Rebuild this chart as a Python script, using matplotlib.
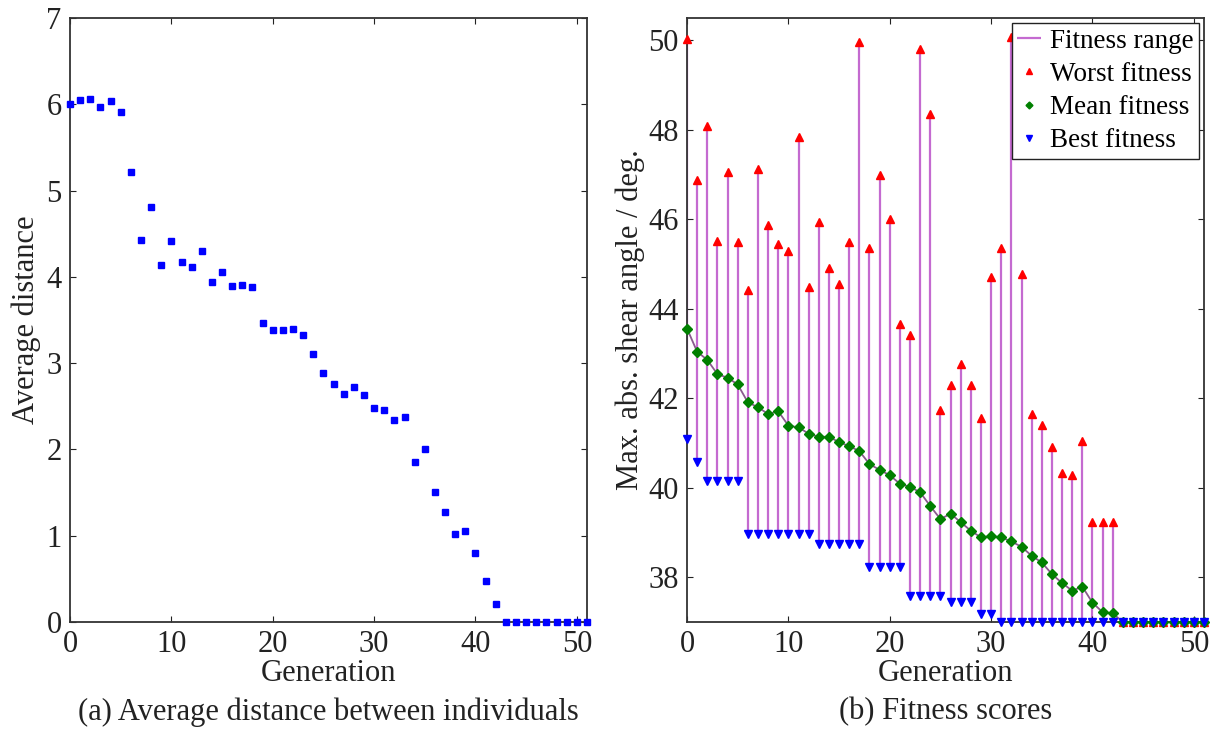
import numpy as np
from matplotlib import pyplot as plt

plt.rcParams['font.family'] = ['Liberation Serif', 'DejaVu Serif']
plt.rcParams['font.size'] = 22

# generations 0..51
gen = np.arange(52)

# (a) average distance between individuals
avg_dist = [6.00, 6.05, 6.06, 5.97, 6.04, 5.91, 5.22, 4.43, 4.81, 4.14,
            4.41, 4.17, 4.12, 4.30, 3.94, 4.06, 3.89, 3.90, 3.88, 3.47,
            3.38, 3.38, 3.40, 3.33, 3.11, 2.89, 2.76, 2.64, 2.72, 2.63,
            2.48, 2.46, 2.34, 2.38, 1.86, 2.00, 1.51, 1.27, 1.02, 1.06,
            0.80, 0.48, 0.21, 0, 0, 0, 0, 0, 0, 0, 0, 0]

# (b) fitness scores
worst = [50.03, 46.89, 48.08, 45.52, 47.06, 45.49, 44.42, 47.12, 45.88, 45.44,
         45.30, 47.85, 44.49, 45.94, 44.91, 44.55, 45.49, 49.97, 45.37, 46.99,
         46.00, 43.65, 43.41, 49.81, 48.35, 41.73, 42.30, 42.76, 42.30, 41.56,
         44.70, 45.35, 50.08, 44.78, 41.65, 41.41, 40.92, 40.32, 40.28, 41.05,
         39.24, 39.24, 39.24, 37.0, 37.0, 37.0, 37.0, 37.0, 37.0, 37.0, 37.0, 37.0]
mean = [43.56, 43.04, 42.86, 42.54, 42.46, 42.31, 41.91, 41.80, 41.65, 41.71,
        41.39, 41.35, 41.21, 41.14, 41.14, 41.02, 40.93, 40.82, 40.53, 40.40,
        40.28, 40.09, 40.02, 39.90, 39.59, 39.30, 39.42, 39.23, 39.04, 38.89,
        38.92, 38.89, 38.80, 38.68, 38.48, 38.33, 38.07, 37.87, 37.70, 37.79,
        37.43, 37.22, 37.19, 37.0, 37.0, 37.0, 37.0, 37.0, 37.0, 37.0, 37.0, 37.0]
best = [41.08, 40.58, 40.15, 40.15, 40.15, 40.15, 38.96, 38.96, 38.96, 38.96,
        38.96, 38.96, 38.96, 38.74, 38.74, 38.74, 38.74, 38.74, 38.22, 38.22,
        38.22, 38.22, 37.59, 37.59, 37.59, 37.57, 37.45, 37.45, 37.45, 37.18,
        37.18, 37.0, 37.0, 37.0, 37.0, 37.0, 37.0, 37.0, 37.0, 37.0,
        37.0, 37.0, 37.0, 37.0, 37.0, 37.0, 37.0, 37.0, 37.0, 37.0, 37.0, 37.0]

W, H = 1227, 731
fig = plt.figure(figsize=(W / 100, H / 100), dpi=100)
ax1 = fig.add_axes([70 / W, 1 - 622 / H, 517 / W, 604 / H])
ax2 = fig.add_axes([687 / W, 1 - 622 / H, 517 / W, 604 / H])

for ax in (ax1, ax2):
    ax.tick_params(direction='in', top=True, right=True, length=4.5, width=0.8,
                   colors='#222222', labelsize=22, pad=6)
    for s in ax.spines.values():
        s.set_color('#333333')
        s.set_linewidth(1.3)
    ax.set_xlim(0, 51)
    ax.set_xticks([0, 10, 20, 30, 40, 50])
    ax.set_xlabel('Generation', fontsize=22, labelpad=0, color='#222222')

# (a)
ax1.plot(gen, avg_dist, 's', color='#0000ff', markersize=4.2, clip_on=False, zorder=3)
ax1.set_ylim(0, 7)
ax1.set_yticks(range(8))
ax1.set_ylabel('Average distance', fontsize=22, labelpad=4, color='#222222')

# (b)
ax2.vlines(gen, best, worst, color='#c46ad0', linewidth=1.6, label='Fitness range', zorder=1)
ax2.plot(gen, mean, '-', color='#8a5a8e', linewidth=1.3, zorder=2)
ax2.plot(gen, worst, '^', color='#ff0000', markersize=6, clip_on=False,
         label='Worst fitness', zorder=3)
ax2.plot(gen, mean, 'D', color='#008000', markersize=5, clip_on=False,
         label='Mean fitness', zorder=4)
ax2.plot(gen, best, 'v', color='#0000ff', markersize=6, clip_on=False,
         label='Best fitness', zorder=5)
ax2.set_ylim(37, 50.5)
ax2.set_yticks([38, 40, 42, 44, 46, 48, 50])
ax2.set_ylabel('Max. abs. shear angle / deg.', fontsize=22, labelpad=2, color='#222222')
leg = ax2.legend(loc='upper right', fontsize=19.5, fancybox=False, edgecolor='#222222',
                 framealpha=1, handlelength=0.9, handletextpad=0.3, borderpad=0.2,
                 labelspacing=0.3, borderaxespad=0.2, markerscale=0.7, numpoints=1)
leg.get_frame().set_linewidth(1.0)

fig.text(328.5 / W, 1 - 712 / H, '(a) Average distance between individuals',
         ha='center', va='center', fontsize=22, color='#222222')
fig.text(945.5 / W, 1 - 712 / H, '(b) Fitness scores',
         ha='center', va='center', fontsize=22, color='#222222')

plt.savefig('out.png', dpi=100)
